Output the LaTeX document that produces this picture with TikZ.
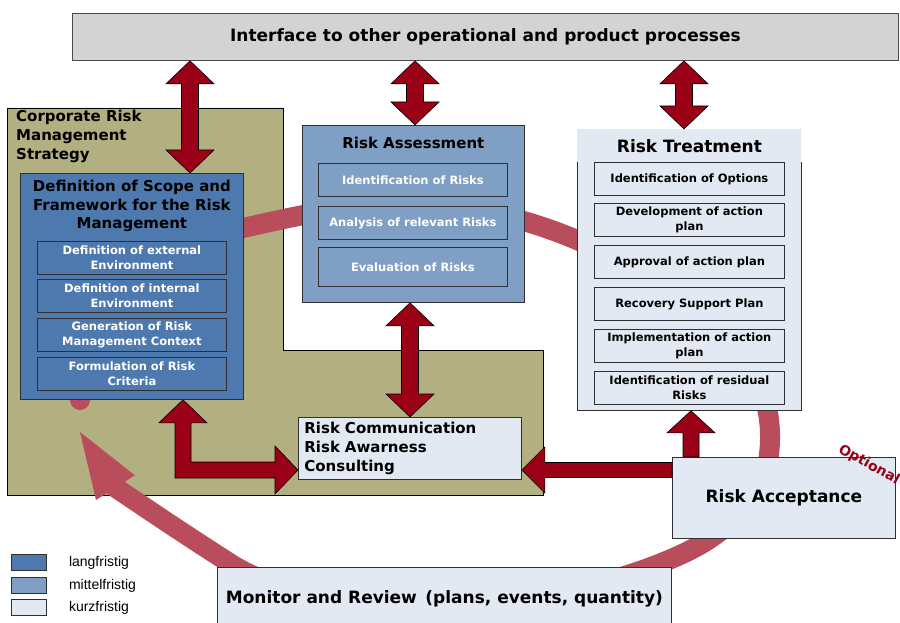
\documentclass[tikz,border=0pt]{standalone}
\usepackage{fontspec}
\setmainfont{DejaVu Sans}
\newfontfamily\legendfont{Liberation Sans}
\usepackage{xcolor}
\usepackage{tikz}
\usetikzlibrary{arrows.meta,calc,positioning}

\definecolor{olivebg}{HTML}{B2AF80}
\definecolor{longblue}{HTML}{4E79AF}
\definecolor{midblue}{HTML}{7F9FC5}
\definecolor{shortblue}{HTML}{E3E9F2}
\definecolor{bargray}{HTML}{D3D3D3}
\definecolor{arrowred}{HTML}{9A0016}
\definecolor{bandred}{HTML}{BA4D5C}
\definecolor{boxline}{HTML}{2F2F2F}

\newcommand{\fsz}[2]{\fontsize{#1}{#2}\selectfont\bfseries}

% vertical two-headed block arrow, #1 upper end, #2 lower end
\newcommand{\vdarrow}[2]{%
  \filldraw[bigarrow] let \p1=#1, \p2=#2 in
    (\x1,\y1) -- ({\x1+24pt},{\y1-23pt}) -- ({\x1+8.5pt},{\y1-23pt})
    -- ({\x1+8.5pt},{\y2+23pt}) -- ({\x1+24pt},{\y2+23pt}) -- (\x1,\y2)
    -- ({\x1-24pt},{\y2+23pt}) -- ({\x1-8.5pt},{\y2+23pt})
    -- ({\x1-8.5pt},{\y1-23pt}) -- ({\x1-24pt},{\y1-23pt}) -- cycle;}

\begin{document}
\begin{tikzpicture}[x=1pt, y=-1pt,
    box/.style={draw=boxline, line width=0.8pt, inner sep=0pt, anchor=north west},
    subbox/.style={box, minimum width=189pt, minimum height=33pt, align=center, font=\fsz{11.5}{14.5}},
    bigarrow/.style={fill=arrowred, draw=black, line width=0.6pt},
    band/.style={draw=bandred, line width=20pt, line cap=round,
      -{Triangle[length=66pt, width=46pt, line width=0pt]}}]
    \useasboundingbox (0,0) rectangle (900,623);
    \clip (0,0) rectangle (900,623);

    % interface bar
    \node[box, fill=bargray, draw=gray!60!black, minimum width=826pt, minimum height=47pt,
      font=\fsz{17}{20}] (itf) at (72,13) {Interface to other operational and product processes};

    % corporate strategy area
    \filldraw[fill=olivebg, draw=black, line width=0.8pt]
      (7,108) -- (283,108) -- (283,350) -- (543,350) -- (543,495) -- (7,495) -- cycle;
    \node[anchor=north west, align=left, inner sep=0pt, font=\fsz{15}{19}] (crms) at (16,110)
      {Corporate Risk\\Management\\Strategy};

    % review cycle
    \draw[band] (80,400) .. controls (88,300) and (160,245) .. (243,228)
      .. controls (310,213) and (350,204) .. (410,204)
      .. controls (470,204) and (530,220) .. (577,240)
      .. controls (690,288) and (772,350) .. (770,440)
      .. controls (769,490) and (745,515) .. (708,540)
      .. controls (670,565) and (560,605) .. (440,605)
      .. controls (340,605) and (270,590) .. (228,562)
      .. controls (170,525) and (115,487) .. (80,432);

    % scope and framework
    \node[box, fill=longblue, minimum width=223pt, minimum height=226pt] (scope) at (20,173) {};
    \node[anchor=north, align=center, inner sep=0pt, font=\fsz{15}{18.5}] (scopehead)
      at ([yshift=-7pt]scope.north) {Definition of Scope and\\Framework for the Risk\\Management};
    \node[subbox, fill=longblue, text=white] (extenv) at (37,241) {Definition of external\\Environment};
    \node[subbox, fill=longblue, text=white] (intenv) at (37,279) {Definition of internal\\Environment};
    \node[subbox, fill=longblue, text=white] (context) at (37,318) {Generation of Risk\\Management Context};
    \node[subbox, fill=longblue, text=white] (criteria) at (37,357) {Formulation of Risk\\Criteria};

    % assessment
    \node[box, fill=midblue, minimum width=222pt, minimum height=177pt] (assess) at (302,125) {};
    \node[anchor=north, inner sep=0pt, font=\fsz{15}{18}] (assesshead)
      at ([yshift=-12pt]assess.north) {Risk Assessment};
    \node[subbox, fill=midblue, text=white] (identify) at (318,163) {Identification of Risks};
    \node[subbox, fill=midblue, text=white] (analyse) at (318,206) {Analysis of relevant Risks};
    \node[subbox, fill=midblue, text=white, minimum height=39pt] (evaluate) at (318,247) {Evaluation of Risks};

    % treatment
    \node[box, draw=none, fill=shortblue, minimum width=224pt, minimum height=281pt] (treat) at (577,129) {};
    \draw[boxline, line width=0.8pt] ([yshift=-33pt]treat.north west) -- (treat.south west)
      -- (treat.south east) -- ([yshift=-33pt]treat.north east);
    \node[anchor=north, inner sep=0pt, font=\fsz{17}{20}] (treathead)
      at ([yshift=-10pt]treat.north) {Risk Treatment};
    \node[subbox, fill=shortblue, minimum width=190pt] (options) at (594,162) {Identification of Options};
    \node[subbox, fill=shortblue, minimum width=190pt] (develop) at (594,203) {Development of action\\plan};
    \node[subbox, fill=shortblue, minimum width=190pt] (approve) at (594,245) {Approval of action plan};
    \node[subbox, fill=shortblue, minimum width=190pt] (recovery) at (594,287) {Recovery Support Plan};
    \node[subbox, fill=shortblue, minimum width=190pt] (implement) at (594,329) {Implementation of action\\plan};
    \node[subbox, fill=shortblue, minimum width=190pt] (residual) at (594,371) {Identification of residual\\Risks};

    % communication, acceptance, review
    \node[box, fill=shortblue, minimum height=62pt, text width=211pt, inner xsep=6pt, align=left,
      font=\fsz{15}{19}] (comm) at (298,417) {Risk Communication\\Risk Awarness\\Consulting};
    \node[box, fill=shortblue, minimum width=223pt, minimum height=81pt, font=\fsz{17}{20}]
      (accept) at (672,457) {Risk Acceptance};
    \node[box, fill=shortblue, minimum width=454pt, minimum height=62pt, font=\fsz{17}{20}]
      (monitor) at (217,567) {Monitor and Review\enspace(plans, events, quantity)};

    \node[rotate=-29, text=arrowred, inner sep=0pt, font=\fsz{14}{16}] (optional) at (869,465) {Optional};

    % legend
    \node[box, fill=longblue, minimum width=35pt, minimum height=16pt] (leg1) at (11,554) {};
    \node[box, fill=midblue, minimum width=35pt, minimum height=16pt] (leg2) at (11,577) {};
    \node[box, fill=shortblue, minimum width=35pt, minimum height=16pt] (leg3) at (11,599) {};
    \node[anchor=west, inner sep=0pt, font=\legendfont\fontsize{14}{16}\selectfont] at ([xshift=22pt]leg1.east) {langfristig};
    \node[anchor=west, inner sep=0pt, font=\legendfont\fontsize{14}{16}\selectfont] at ([xshift=22pt]leg2.east) {mittelfristig};
    \node[anchor=west, inner sep=0pt, font=\legendfont\fontsize{14}{16}\selectfont] at ([xshift=22pt]leg3.east) {kurzfristig};

    % block arrows
    \coordinate (lnk1) at (190,0);
    \coordinate (lnk2) at (415,0);
    \coordinate (lnk3) at (684,0);
    \coordinate (lnk4) at (410,0);
    \coordinate (lnk5) at (691,0);
    \coordinate (lnk6) at (0,470);
    \coordinate (lnk7) at (183,0);
    \vdarrow{(itf.south -| lnk1)}{(scope.north -| lnk1)}
    \vdarrow{(itf.south -| lnk2)}{(assess.north -| lnk2)}
    \vdarrow{(itf.south -| lnk3)}{(treat.north -| lnk3)}
    \vdarrow{(assess.south -| lnk4)}{(comm.north -| lnk4)}
    \filldraw[bigarrow] let \p1=(treat.south -| lnk5), \p2=(accept.north -| lnk5) in
      (\x1,\y1) -- ({\x1+24pt},{\y1-22pt}) -- ({\x1+8pt},{\y1-22pt}) -- ({\x1+8pt},\y2)
      -- ({\x1-8pt},\y2) -- ({\x1-8pt},{\y1-22pt}) -- ({\x1-24pt},{\y1-22pt}) -- cycle;
    \filldraw[bigarrow] let \p1=(comm.east |- lnk6), \p2=(accept.west |- lnk6) in
      (\x1,\y1) -- ({\x1+23pt},{\y1+23pt}) -- ({\x1+23pt},{\y1+7.5pt}) -- (\x2,{\y1+7.5pt})
      -- (\x2,{\y1-7.5pt}) -- ({\x1+23pt},{\y1-7.5pt}) -- ({\x1+23pt},{\y1-23pt}) -- cycle;
    \filldraw[bigarrow] let \p1=(scope.south -| lnk7), \p2=(comm.west |- lnk6) in
      (\x1,\y1) -- ({\x1+24pt},{\y1-23pt}) -- ({\x1+8pt},{\y1-23pt}) -- ({\x1+8pt},{\y2+8pt})
      -- ({\x2-23pt},{\y2+8pt}) -- ({\x2-23pt},{\y2+24pt}) -- (\x2,\y2)
      -- ({\x2-23pt},{\y2-24pt}) -- ({\x2-23pt},{\y2-8pt}) -- ({\x1-8pt},{\y2-8pt})
      -- ({\x1-8pt},{\y1-23pt}) -- ({\x1-24pt},{\y1-23pt}) -- cycle;
\end{tikzpicture}
\end{document}
